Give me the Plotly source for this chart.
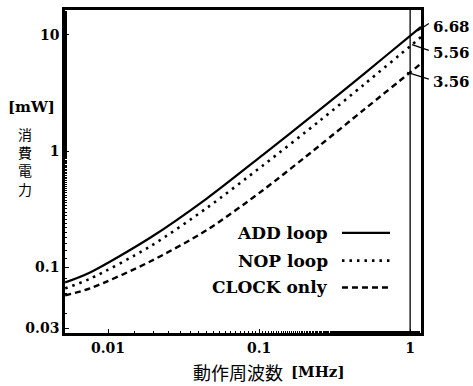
import plotly.graph_objects as go

# ---- data ----
freq_mhz = [0.0052, 0.0076, 0.019, 0.045, 0.106, 0.25, 0.5, 1.0, 1.18]
add_loop = [0.0745, 0.0908, 0.1805, 0.392, 0.931, 2.25, 4.67, 9.8, 11.7]
nop_loop = [0.0663, 0.0802, 0.152, 0.325, 0.754, 1.81, 3.78, 7.98, 9.55]
clock_only = [0.0578, 0.0663, 0.1128, 0.2097, 0.462, 1.11, 2.30, 4.75, 5.66]
series_names = ["ADD loop", "NOP loop", "CLOCK only"]
end_labels = ["6.68", "5.56", "3.56"]
x_ticks = [0.01, 0.1, 1]
x_tick_text = ["0.01", "0.1", "1"]
y_ticks = [0.03, 0.1, 1, 10]
y_tick_text = ["0.03", "0.1", "1", "10"]
y_title_chars = ["消", "費", "電", "力"]
x_title_jp = "動作周波数"
x_title_unit = "[MHz]"
y_title_unit = "[mW]"
f_marker = 1.0

SERIF = "DejaVu Serif, serif"
CJK = "Noto Sans CJK JP"

styles = [
    dict(color="black", width=2.2, dash="solid"),
    dict(color="black", width=2.6, dash="2.5px,5px"),
    dict(color="black", width=2.4, dash="6px,4px"),
]

fig = go.Figure()
for name, ys, st in zip(series_names, [add_loop, nop_loop, clock_only], styles):
    fig.add_trace(go.Scatter(x=freq_mhz, y=ys, mode="lines", name=name,
                             line=dict(shape="spline", smoothing=0.8, **st),
                             showlegend=False, cliponaxis=True))

# vertical line at 1 MHz
fig.add_shape(type="line", xref="x", yref="paper", x0=f_marker, x1=f_marker,
              y0=0, y1=1, line=dict(color="black", width=1.3))

# manual legend: text then line sample
leg_y = [0.310, 0.224, 0.141]
for name, st, yy in zip(series_names, styles, leg_y):
    fig.add_annotation(xref="paper", yref="paper", x=0.745, y=yy, text="<b>%s</b>" % name,
                       showarrow=False, xanchor="right", yanchor="middle",
                       font=dict(family=SERIF, size=17, color="black"))
    fig.add_shape(type="line", xref="paper", yref="paper", x0=0.778, x1=0.913,
                  y0=yy, y1=yy, line=st)

# end value labels with leader lines
lab_y = [0.948, 0.868, 0.776]
tgt_y = [0.935, 0.893, 0.807]
tgt_x = [0.99, 0.975, 0.961]
end_y = [0.958, 0.875, 0.786]
for txt, ly, ty, tx, ey in zip(end_labels, lab_y, tgt_y, tgt_x, end_y):
    fig.add_annotation(xref="paper", yref="paper", x=1.028, y=ly, text="<b>%s</b>" % txt,
                       showarrow=False, xanchor="left", yanchor="middle",
                       font=dict(family=SERIF, size=15, color="black"))
    fig.add_shape(type="line", xref="paper", yref="paper", x0=tx, x1=1.022,
                  y0=ty, y1=ey, line=dict(color="black", width=1.2))

# y-axis title
fig.add_annotation(xref="paper", yref="paper", x=-0.093, y=0.70, text="<b>%s</b>" % y_title_unit,
                   showarrow=False, xanchor="center", yanchor="middle",
                   font=dict(family=SERIF, size=15, color="black"))
fig.add_annotation(xref="paper", yref="paper", x=-0.112, y=0.530,
                   text="<br>".join(y_title_chars), showarrow=False,
                   xanchor="center", yanchor="middle",
                   font=dict(family=CJK, size=14, color="black"))

# x-axis title (two parts)
fig.add_annotation(xref="paper", yref="paper", x=0.618, y=-0.12, text=x_title_jp,
                   showarrow=False, xanchor="right", yanchor="middle",
                   font=dict(family=CJK, size=18, color="black"))
fig.add_annotation(xref="paper", yref="paper", x=0.63, y=-0.12, text="<b>%s</b>" % x_title_unit,
                   showarrow=False, xanchor="left", yanchor="middle",
                   font=dict(family=SERIF, size=15, color="black"))

common = dict(ticks="inside", ticklen=4, tickwidth=1, tickcolor="black",
              minor=dict(ticks="inside", ticklen=2, tickcolor="black", showgrid=False),
              showgrid=False, zeroline=False, showline=True, linecolor="black",
              linewidth=2.5, mirror=True,
              tickfont=dict(family=SERIF, size=14, color="black"))
fig.update_xaxes(type="log", range=[-2.285, 0.072], tickvals=x_ticks,
                 ticktext=["<b>%s</b>" % t for t in x_tick_text], **common)
fig.update_yaxes(type="log", range=[-1.562, 1.213], tickvals=y_ticks,
                 ticktext=["<b>%s</b>" % t for t in y_tick_text], **common)
fig.update_layout(width=473, height=386, margin=dict(l=65, r=52, t=7, b=53),
                  plot_bgcolor="white", paper_bgcolor="white",
                  font=dict(family=SERIF, color="black"))

fig.write_html("out.html", config={"displayModeBar": False},
               post_script="document.body.style.margin='0';")
